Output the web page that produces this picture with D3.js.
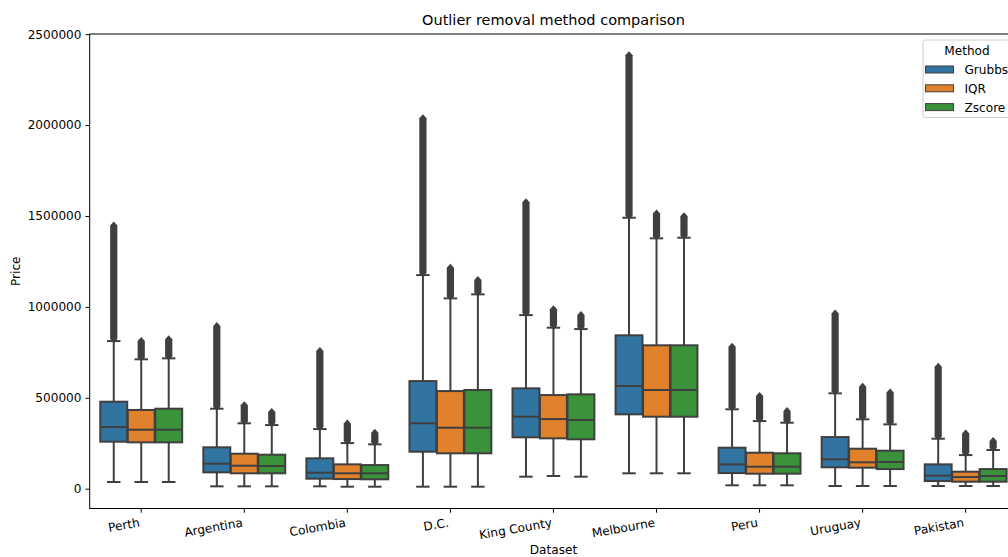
<!DOCTYPE html>
<html>
<head>
<meta charset="utf-8">
<script src="https://cdn.jsdelivr.net/npm/d3@7"></script>
<style>
  html, body { margin: 0; padding: 0; background: #ffffff; }
  svg { display: block; }
  text { font-family: "DejaVu Sans", sans-serif; fill: #000; }
</style>
</head>
<body>
<script>
// Datasets along the x axis
const datasets = ["Perth", "Argentina", "Colombia", "D.C.", "King County", "Melbourne", "Peru", "Uruguay", "Pakistan"];
const methods = ["Grubbs", "IQR", "Zscore"];
const methodColors = ["#3274a1", "#e1812c", "#3a923a"];
const yTicks = [0, 500000, 1000000, 1500000, 2000000, 2500000];

// Box statistics per dataset: [lower whisker, Q1, median, Q3, upper whisker, largest outlier]
const grubbs = [
  [37000, 258500, 339000, 478500, 812000, 1450000],
  [13000, 90000, 137500, 227700, 440000, 898000],
  [13000, 55000, 88000, 167000, 328000, 760000],
  [11000, 203500, 360000, 592000, 1175000, 2040000],
  [66000, 282700, 396000, 552000, 955000, 1578000],
  [84700, 409000, 565000, 843700, 1490500, 2387000],
  [18700, 86000, 134000, 225500, 436700, 784000],
  [14800, 117700, 161700, 284000, 524700, 967000],
  [14800, 42000, 71500, 134000, 275000, 674000]
];
const iqr = [
  [37000, 255000, 324500, 433000, 711700, 815000],
  [13000, 84700, 126500, 192500, 359700, 462000],
  [11000, 53000, 84700, 134000, 251000, 362000],
  [11000, 194700, 335500, 537000, 1047000, 1218000],
  [70000, 277000, 383000, 515000, 885600, 990000],
  [84700, 396000, 543000, 788700, 1377000, 1517000],
  [18700, 82500, 121000, 198000, 372000, 512000],
  [14800, 115500, 145000, 220000, 381700, 564000],
  [14800, 38500, 64000, 93500, 185000, 307000]
];
const zscore = [
  [37000, 255000, 324500, 440000, 717000, 825000],
  [13000, 84700, 124800, 187000, 350000, 425000],
  [11000, 51700, 84700, 130000, 244000, 311000],
  [11000, 194700, 335500, 543000, 1069000, 1150000],
  [66000, 271700, 378000, 519000, 878000, 958000],
  [84700, 396000, 543000, 788700, 1380500, 1502000],
  [18700, 82500, 121000, 194700, 363000, 430000],
  [14800, 108000, 146800, 209000, 354000, 532000],
  [14800, 38500, 69800, 108000, 213000, 265000]
];
const statsByMethod = [grubbs, iqr, zscore];

const W = 1008, H = 557;
const plot = { left: 89.7, right: 1017.2, top: 34, bottom: 508.5 };
const lineColor = "#3f3f3f";

const svg = d3.select("body").append("svg")
  .attr("width", W).attr("height", H)
  .attr("viewBox", `0 0 ${W} ${H}`);

const x = d3.scaleBand().domain(datasets).range([plot.left, plot.right]).padding(0);
const y = d3.scaleLinear().domain([-108900, 2501000]).range([plot.bottom, plot.top]);

const bw = x.bandwidth();
const hueWidth = 0.8 * bw / methods.length;
const boxWidth = hueWidth * 0.98;
const capWidth = boxWidth * 0.5;

// Flatten into one record per box
const boxes = [];
datasets.forEach((ds, i) => {
  methods.forEach((m, j) => {
    const s = statsByMethod[j][i];
    boxes.push({
      ds, method: m, color: methodColors[j],
      cx: x(ds) + bw / 2 + (j - 1) * hueWidth,
      lo: s[0], q1: s[1], med: s[2], q3: s[3], hi: s[4], outMax: s[5]
    });
  });
});

const g = svg.append("g");

// Outlier columns: dense diamonds from just above the upper whisker to the largest outlier
const half = 3.6, tip = 3.5;
g.selectAll("path.fliers").data(boxes).join("path")
  .attr("class", "fliers")
  .attr("fill", lineColor)
  .attr("d", d => {
    const yTop = y(d.outMax), yBot = y(d.hi) - 1.5;
    const c = d.cx;
    return `M${c},${yTop - tip} L${c + half},${yTop + 0.5} L${c + half},${yBot - 0.5} L${c},${yBot + tip} L${c - half},${yBot - 0.5} L${c - half},${yTop + 0.5} Z`;
  });

// Whiskers
g.selectAll("line.wlo").data(boxes).join("line")
  .attr("x1", d => d.cx).attr("x2", d => d.cx)
  .attr("y1", d => y(d.q1)).attr("y2", d => y(d.lo))
  .attr("stroke", lineColor).attr("stroke-width", 2);
g.selectAll("line.whi").data(boxes).join("line")
  .attr("x1", d => d.cx).attr("x2", d => d.cx)
  .attr("y1", d => y(d.q3)).attr("y2", d => y(d.hi))
  .attr("stroke", lineColor).attr("stroke-width", 2);

// Caps
["lo", "hi"].forEach(k => {
  g.selectAll("line.cap" + k).data(boxes).join("line")
    .attr("x1", d => d.cx - capWidth / 2).attr("x2", d => d.cx + capWidth / 2)
    .attr("y1", d => y(d[k])).attr("y2", d => y(d[k]))
    .attr("stroke", lineColor).attr("stroke-width", 2);
});

// Boxes
g.selectAll("rect.box").data(boxes).join("rect")
  .attr("x", d => d.cx - boxWidth / 2)
  .attr("width", boxWidth)
  .attr("y", d => y(d.q3))
  .attr("height", d => y(d.q1) - y(d.q3))
  .attr("fill", d => d.color)
  .attr("stroke", lineColor).attr("stroke-width", 2);

// Medians
g.selectAll("line.median").data(boxes).join("line")
  .attr("x1", d => d.cx - boxWidth / 2).attr("x2", d => d.cx + boxWidth / 2)
  .attr("y1", d => y(d.med)).attr("y2", d => y(d.med))
  .attr("stroke", lineColor).attr("stroke-width", 2);

// Axes frame
svg.append("rect")
  .attr("x", plot.left).attr("y", plot.top)
  .attr("width", plot.right - plot.left).attr("height", plot.bottom - plot.top)
  .attr("fill", "none").attr("stroke", "#000").attr("stroke-width", 1);

// Y axis
const yAxis = d3.axisLeft(y).tickValues(yTicks).tickFormat(d3.format("d")).tickSize(4.2).tickPadding(4);
const ya = svg.append("g").attr("transform", `translate(${plot.left},0)`).call(yAxis);
ya.select(".domain").remove();
ya.selectAll("text").style("font-size", "12.1px").attr("fill", "#000");
ya.selectAll("line").attr("stroke", "#000");

// X axis
const xAxis = d3.axisBottom(x).tickSize(4.2).tickFormat(d => d);
const xa = svg.append("g").attr("transform", `translate(0,${plot.bottom})`).call(xAxis);
xa.select(".domain").remove();
xa.selectAll("line").attr("stroke", "#000");
xa.selectAll("text")
  .style("font-size", "12.1px").attr("fill", "#000")
  .attr("text-anchor", "end")
  .attr("dy", null)
  .attr("y", 0)
  .attr("transform", "translate(-1,18) rotate(-10)");

// Titles and labels
svg.append("text")
  .attr("x", (plot.left + plot.right) / 2).attr("y", 25)
  .attr("text-anchor", "middle").style("font-size", "14.5px")
  .text("Outlier removal method comparison");
svg.append("text")
  .attr("x", (plot.left + plot.right) / 2).attr("y", 554)
  .attr("text-anchor", "middle").style("font-size", "12.1px")
  .text("Dataset");
svg.append("text")
  .attr("transform", `translate(20,${(plot.top + plot.bottom) / 2}) rotate(-90)`)
  .attr("text-anchor", "middle").style("font-size", "12.1px")
  .text("Price");

// Legend
const lg = svg.append("g").attr("transform", "translate(923,40)");
lg.append("rect")
  .attr("x", 0).attr("y", 0).attr("width", 88).attr("height", 77.5)
  .attr("rx", 2.5).attr("ry", 2.5)
  .attr("fill", "#fff").attr("fill-opacity", 0.8)
  .attr("stroke", "#cccccc").attr("stroke-width", 1);
lg.append("text")
  .attr("x", 44).attr("y", 15).attr("text-anchor", "middle")
  .style("font-size", "12.1px").text("Method");
const items = lg.selectAll("g.item").data(methods).join("g")
  .attr("transform", (d, i) => `translate(0,${26 + i * 18.8})`);
items.append("rect")
  .attr("x", 2.5).attr("y", 0).attr("width", 28).attr("height", 7)
  .attr("fill", (d, i) => methodColors[i])
  .attr("stroke", lineColor).attr("stroke-width", 1);
items.append("text")
  .attr("x", 41.5).attr("y", 8)
  .style("font-size", "12.1px").text(d => d);
</script>
</body>
</html>
